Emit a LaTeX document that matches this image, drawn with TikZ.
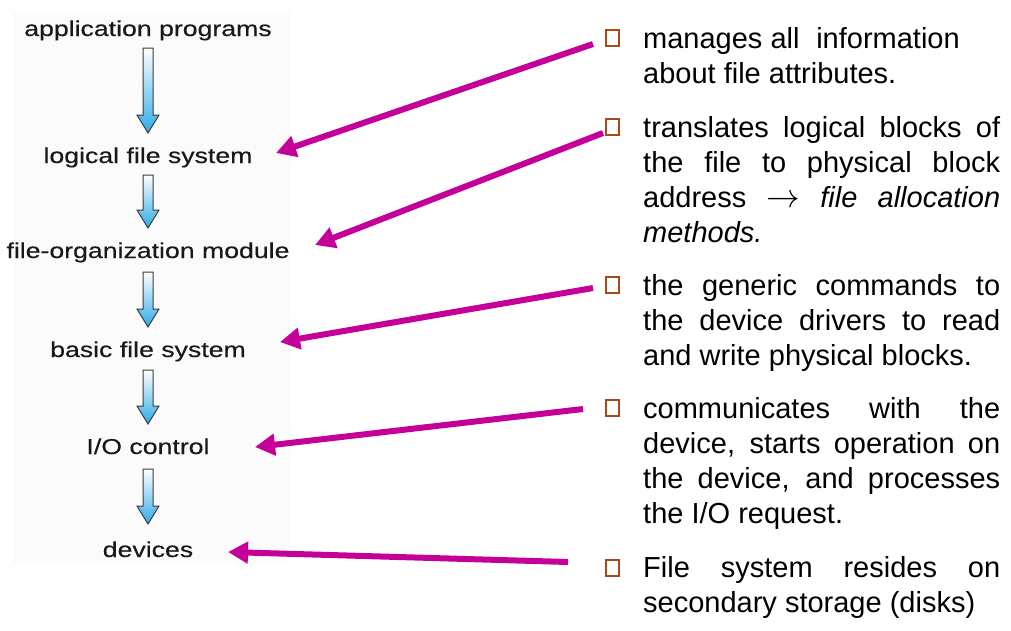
\documentclass[tikz,border=0pt]{standalone}
\usepackage{fontspec}
\usepackage{graphicx}
\setmainfont{Liberation Sans}
\newfontfamily\leftfont[FakeBold=0.3]{Liberation Sans}
\usetikzlibrary{arrows.meta}
\definecolor{mag}{RGB}{196,0,152}
\definecolor{bulletc}{RGB}{170,72,22}
\definecolor{panelbg}{RGB}{251,251,251}
\definecolor{lefttext}{RGB}{25,25,25}
\definecolor{arrblue}{RGB}{45,170,232}
\definecolor{arrline}{RGB}{60,60,60}
\newcommand{\lefttxt}[1]{\scalebox{1.24}[1]{\leftfont\fontsize{21.5}{25}\selectfont #1}}
\newcommand{\rpar}[1]{\parbox[t]{357pt}{\fontsize{29}{35}\selectfont #1}}
\tikzset{
  layer/.style={anchor=base, inner sep=0pt, text=lefttext},
  desc/.style={anchor=base west, inner sep=0pt, text=black},
  bulletbox/.style={draw=bulletc, line width=1.6pt, minimum width=13pt, minimum height=16pt, inner sep=0pt, anchor=south west},
  pointer/.style={draw=mag, line width=6pt, -{Triangle[length=20pt,width=21pt]}},
  blockarrow/.style={draw=arrline, line width=1pt, top color=white, bottom color=arrblue}
}
\newcommand{\downarrowshape}[2]{%
  \path[blockarrow] (143,#1) -- (153,#1) -- (153,#2-18) -- (159,#2-18) -- (148,#2) -- (137,#2-18) -- (143,#2-18) -- cycle;}
\begin{document}
\begin{tikzpicture}[x=1pt,y=-1pt]
\useasboundingbox (0,0) rectangle (1011,630);
\fill[panelbg] (13,12) rectangle (290,563);

% left layers
\node[layer] (app) at (148,36) {\lefttxt{application programs}};
\node[layer] (lfs) at (148,163) {\lefttxt{logical file system}};
\node[layer] (fom) at (148,258) {\lefttxt{file-organization module}};
\node[layer] (bfs) at (148,357) {\lefttxt{basic file system}};
\node[layer] (ioc) at (148,454) {\lefttxt{I/O control}};
\node[layer] (dev) at (148,557) {\lefttxt{devices}};

% block arrows between layers
\downarrowshape{48}{133}
\downarrowshape{175}{228}
\downarrowshape{272}{327}
\downarrowshape{370}{424}
\downarrowshape{469}{524}

% bullets
\node[bulletbox] (b1) at (605,47) {};
\node[bulletbox] (b2) at (605,136) {};
\node[bulletbox] (b3) at (605,294) {};
\node[bulletbox] (b4) at (605,417) {};
\node[bulletbox] (b5) at (605,577) {};

% descriptions
\node[desc] (d1) at (643,48) {\rpar{manages all\hspace{0.3em} information\\about file attributes.}};
\node[desc] (d2) at (643,137) {\rpar{translates logical blocks of\linebreak the file to physical block\linebreak address \smash{\scalebox{1.35}{$\rightarrow$}} \textit{file allocation}\linebreak \textit{methods.}}};
\node[desc] (d3) at (643,295) {\rpar{the generic commands to\linebreak the device drivers to read\linebreak and write physical blocks.}};
\node[desc] (d4) at (643,418) {\rpar{communicates with the\linebreak device, starts operation on\linebreak the device, and processes\linebreak the I/O request.}};
\node[desc] (d5) at (643,577) {\rpar{File system resides on\linebreak secondary storage (disks)}};

% pointer endpoints
\coordinate (s1) at (593,44);  \coordinate (t1) at (276,153);
\coordinate (s2) at (603,133); \coordinate (t2) at (315,245);
\coordinate (s3) at (593,288); \coordinate (t3) at (280,342);
\coordinate (s4) at (583,409); \coordinate (t4) at (255,447);
\coordinate (s5) at (568,562); \coordinate (t5) at (228,552);

\draw[pointer] (s1) -- (t1);
\draw[pointer] (s2) -- (t2);
\draw[pointer] (s3) -- (t3);
\draw[pointer] (s4) -- (t4);
\draw[pointer] (s5) -- (t5);
\end{tikzpicture}
\end{document}
